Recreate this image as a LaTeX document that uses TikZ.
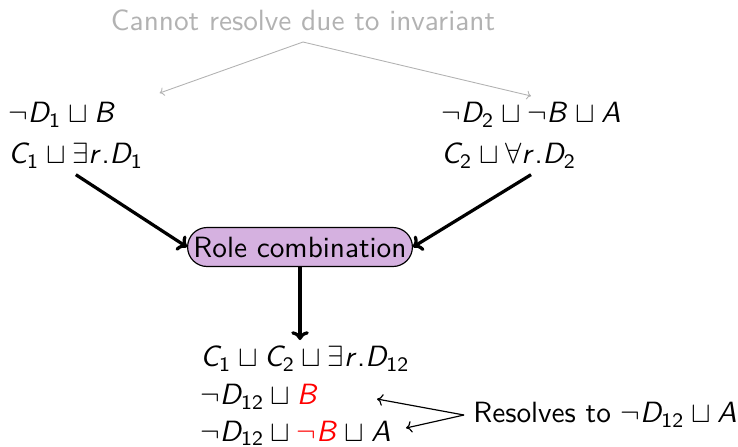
\documentclass[tikz,border=0pt]{standalone}
\usepackage{amssymb}
\usetikzlibrary{shapes.misc,arrows.meta,calc}
\DeclareSymbolFont{sfletters}{OT1}{cmss}{m}{sl}
\DeclareSymbolFont{sfdigits}{OT1}{cmss}{m}{n}
\DeclareMathSymbol{A}{\mathalpha}{sfletters}{`A}
\DeclareMathSymbol{B}{\mathalpha}{sfletters}{`B}
\DeclareMathSymbol{C}{\mathalpha}{sfletters}{`C}
\DeclareMathSymbol{D}{\mathalpha}{sfletters}{`D}
\DeclareMathSymbol{r}{\mathalpha}{sfletters}{`r}
\DeclareMathSymbol{1}{\mathord}{sfdigits}{`1}
\DeclareMathSymbol{2}{\mathord}{sfdigits}{`2}
\DeclareMathSymbol{.}{\mathord}{sfdigits}{`.}
\definecolor{rolefill}{RGB}{213,177,224}
\definecolor{notegray}{RGB}{178,178,178}
\begin{document}
\begin{tikzpicture}[x=0.3413pt,y=-0.3413pt,font=\sffamily,
  clause/.style={align=left,inner sep=2pt,anchor=north west},
  mainarrow/.style={-{To[length=3pt,width=6pt]},line width=1.1pt},
  notearrow/.style={-{To[length=1.5pt,width=3pt]},line width=0.3pt,draw=notegray},
  thinarrow/.style={-{To[length=2pt,width=4pt]},line width=0.4pt},
  rolebox/.style={rounded rectangle,draw=black,line width=0.4pt,fill=rolefill,
    minimum width=76pt,minimum height=13.3pt,inner xsep=1pt,inner ysep=0pt}]
\useasboundingbox (0,0) rectangle (738,446);
\node[text=notegray,inner sep=0pt] (note) at (303,20) {Cannot resolve due to invariant};
\coordinate (fork) at (303,42);
\node[clause] (left) at (2,96) {$\neg D_1 \sqcup B$\\[2pt] $C_1 \sqcup \exists r.D_1$};
\node[clause] (right) at (435,96) {$\neg D_2 \sqcup \neg B \sqcup A$\\[2pt] $C_2 \sqcup \forall r.D_2$};
\node[rolebox] (role) at (300,247) {Role combination};
\node[clause] (result) at (194,340) {$C_1 \sqcup C_2 \sqcup \exists r.D_{12}$\\[1pt]
  $\neg D_{12} \sqcup \textcolor{red}{B}$\\[0.4pt]
  $\neg D_{12} \sqcup \textcolor{red}{\neg B} \sqcup A$};
\node[anchor=west,inner sep=3pt] (resolves) at (464,415) {Resolves to $\neg D_{12} \sqcup A$};
\coordinate (t1) at (377,399);
\coordinate (t2) at (406,428);
\draw[notearrow] (fork) -- ($(left.north east)+(10,-3)$);
\draw[notearrow] (fork) -- (right.north);
\draw[mainarrow] (left.south) -- (role.west);
\draw[mainarrow] (right.south) -- (role.east);
\draw[mainarrow] (role.south) -- (result.north -| role.south);
\draw[thinarrow] (resolves.west) -- (t1);
\draw[thinarrow] (resolves.west) -- (t2);
\end{tikzpicture}
\end{document}
